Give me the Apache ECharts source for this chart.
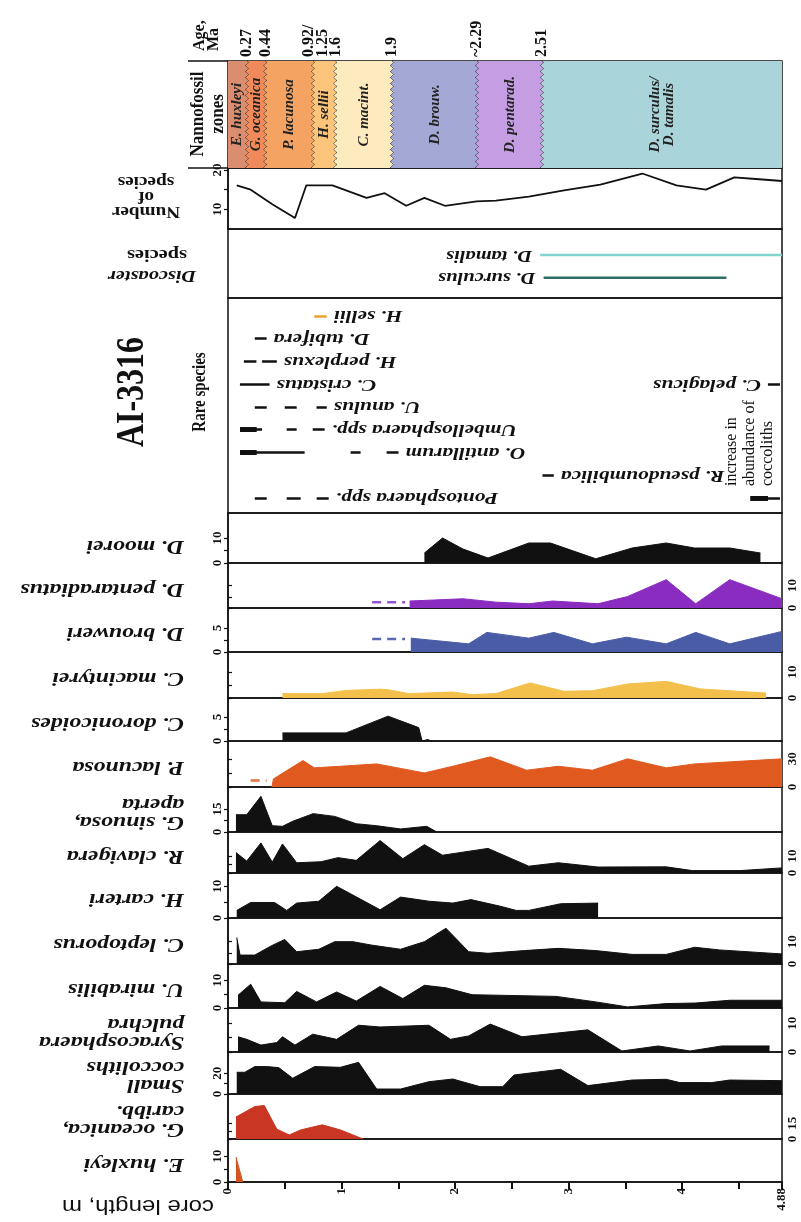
<!DOCTYPE html>
<html>
<head>
<meta charset="utf-8">
<title>AI-3316 nannofossils</title>
<script src="https://cdn.jsdelivr.net/npm/echarts@6/dist/echarts.min.js"></script>
<style>
  html, body { margin: 0; padding: 0; background: #fff; }
  #main { width: 801px; height: 1222px; }
</style>
</head>
<body>
<div id="main"></div>
<script>
// core length axis, m
const coreMax = 4.88
const coreTicks = [0, 0.5, 1, 1.5, 2, 2.5, 3, 3.5, 4, 4.5, 4.88]
const coreLabels = [0, 1, 2, 3, 4, 4.88]

// nannofossil zones (boundaries in m) and ages at the boundaries
const zoneBounds = [0, 0.169, 0.33, 0.75, 0.947, 1.446, 2.195, 2.768, 4.88]
const zoneNames = ['E. huxleyi', 'G. oceanica', 'P. lacunosa', 'H. sellii', 'C. macint.', 'D. brouw.', 'D. pentarad.', 'D. surculus/\nD. tamalis']
const ageLabels = ['0.27', '0.44', '0.92/\n1.25', '1.6', '1.9', '~2.29', '2.51']

// number of species
const speciesCount = [[0.077, 16.1], [0.20, 15.0], [0.39, 11.3], [0.59, 7.8], [0.69, 16.1], [0.92, 16.1], [1.22, 12.9], [1.38, 14.1], [1.57, 10.9], [1.73, 12.9], [1.91, 10.9], [2.19, 12.0], [2.36, 12.2], [2.65, 13.2], [2.96, 14.8], [3.28, 16.3], [3.65, 19.1], [3.95, 16.1], [4.21, 15.0], [4.46, 18.1], [4.65, 17.7], [4.88, 17.2]]

// Discoaster species ranges
const discoNames = ['D. tamalis', 'D. surculus']
const discoRanges = [[2.75, 4.88], [2.78, 4.39]]

// rare species: [row, from, to]
const rareNames = ['H. sellii', 'D. tubifera', 'H. perplexus', 'C. cristatus', 'U. anulus', 'Umbellosphaera spp.', 'O. antillarum', 'R. pseudoumbilica', 'Pontosphaera spp.']
const rareSegments = [
  [0, 0.76, 0.87],
  [1, 0.236, 0.34],
  [2, 0.14, 0.25], [2, 0.30, 0.43],
  [3, 0.105, 0.366],
  [4, 0.236, 0.341], [4, 0.50, 0.605], [4, 0.78, 0.87],
  [5, 0.106, 0.30], [5, 0.517, 0.605], [5, 0.746, 0.851],
  [6, 0.106, 0.675], [6, 1.08, 1.168], [6, 1.397, 1.502],
  [7, 2.77, 2.87],
  [8, 0.236, 0.341], [8, 0.517, 0.64], [8, 0.781, 0.887]
]
const rareThick = [[5, 0.106, 0.253], [6, 0.106, 0.253]]
const pelagicus = [3, 4.756, 4.862]
const coccolithIncrease = [8, 4.60, 4.757, 4.862]

// abundance panels, %
const mooreiData = [[1.73, 4], [1.89, 10], [2.07, 5.6], [2.29, 2], [2.65, 8], [2.84, 8], [3.24, 1.7], [3.56, 6], [3.86, 8], [4.11, 6], [4.42, 6], [4.69, 4]]
const pentaData = [[1.60, 3.1], [2.07, 4.1], [2.36, 2.6], [2.65, 1.9], [2.86, 3.1], [3.26, 1.9], [3.52, 5.1], [3.86, 12.6], [4.12, 1.9], [4.42, 12.6], [4.88, 4.1]]
const pentaDashed = [[1.27, 2.6], [1.56, 2.6]]
const brouData = [[1.61, 2.9], [2.12, 1.7], [2.28, 4.1], [2.65, 2.9], [2.87, 4.1], [3.21, 1.7], [3.51, 3.1], [3.86, 1.7], [4.12, 4.1], [4.42, 1.7], [4.88, 4.3]]
const brouDashed = [[1.27, 2.7], [1.56, 2.7]]
const macinData = [[0.48, 1.7], [0.83, 1.7], [1.04, 2.9], [1.34, 3.4], [1.41, 3.2], [1.59, 1.7], [1.98, 2.3], [2.15, 1.3], [2.36, 1.7], [2.66, 5.8], [2.96, 2.6], [3.21, 2.8], [3.52, 5.4], [3.86, 6.4], [4.16, 3.5], [4.74, 1.9]]
const doronData = [[0.48, 1.7], [1.04, 1.7], [1.41, 5.2], [1.68, 2.8], [1.71, 0], [1.76, 0.3], [1.79, 0]]
const lacunData = [[0.387, 0], [0.40, 8.6], [0.66, 28.2], [0.76, 20.4], [0.99, 22.1], [1.31, 24.6], [1.73, 15], [1.98, 22.1], [2.31, 32.1], [2.63, 17.9], [2.91, 22.1], [3.21, 17.9], [3.52, 30], [3.86, 20.4], [4.11, 24.6], [4.88, 30]]
const lacunDashed = [[0.20, 6.8], [0.34, 6.8]]
const sinuData = [[0.07, 11.3], [0.165, 11.3], [0.29, 23.3], [0.39, 4.1], [0.48, 3.7], [0.57, 7], [0.75, 12], [0.94, 10.2], [1.13, 5.4], [1.31, 4.1], [1.52, 2], [1.75, 3.7], [1.84, 0]]
const clavData = [[0.07, 12], [0.165, 7], [0.29, 17.6], [0.39, 6.4], [0.48, 17], [0.605, 6], [0.82, 6.6], [0.97, 9], [1.13, 7.4], [1.34, 19], [1.54, 8.4], [1.73, 16.6], [1.89, 10.4], [2.29, 14.4], [2.65, 4], [2.91, 6], [3.26, 3.5], [3.86, 3.6], [4.09, 1.4], [4.51, 1.4], [4.88, 3]]
const cartData = [[0.077, 2.4], [0.20, 4.9], [0.41, 4.9], [0.517, 2.4], [0.605, 4.7], [0.80, 5.3], [0.957, 10], [1.34, 2.6], [1.52, 6.6], [1.77, 5.3], [1.98, 4.7], [2.14, 5.8], [2.40, 3.7], [2.54, 2.4], [2.65, 2.4], [2.93, 4.5], [3.26, 4.7]]
const leptData = [[0.077, 11.9], [0.106, 4], [0.236, 4], [0.376, 8], [0.50, 11], [0.605, 5.5], [0.80, 6.6], [0.94, 10], [1.10, 10], [1.26, 8.5], [1.52, 6.6], [1.73, 10], [1.92, 16], [2.12, 5.5], [2.29, 4.8], [2.61, 6], [2.91, 7], [3.24, 6], [3.56, 4.3], [3.86, 4.3], [4.11, 7.5], [4.33, 6.3], [4.88, 4.5]]
const miraData = [[0.088, 4.6], [0.20, 8.6], [0.29, 2.2], [0.50, 1.9], [0.605, 6], [0.78, 2.2], [0.957, 5.8], [1.13, 2.5], [1.34, 7.8], [1.54, 3.4], [1.73, 8.2], [1.92, 7.3], [2.15, 4.8], [2.89, 4.2], [3.24, 2.2], [3.52, 0.4], [3.86, 1.6], [4.12, 1.8], [4.42, 2.8], [4.88, 2.8]]
const syraData = [[0.088, 5.3], [0.165, 4.4], [0.29, 2.4], [0.43, 3.3], [0.48, 5.3], [0.59, 2.4], [0.746, 6.2], [0.957, 4.4], [1.15, 9.3], [1.34, 8.7], [1.77, 9.3], [1.96, 4.4], [2.12, 5.6], [2.31, 9.7], [2.59, 5.3], [3.17, 7.7], [3.47, 0.35], [3.79, 2.1], [4.07, 0.35], [4.35, 2.1], [4.77, 2.1]]
const smallData = [[0.077, 21], [0.148, 21], [0.236, 26.5], [0.34, 26.5], [0.447, 25.5], [0.57, 15.2], [0.763, 26.5], [0.99, 25.8], [1.15, 30.6], [1.31, 4.8], [1.52, 4.8], [1.77, 11.9], [1.98, 14.5], [2.22, 7.1], [2.42, 7.1], [2.52, 18.4], [2.93, 23.9], [3.17, 8.1], [3.56, 13.5], [3.86, 14.2], [3.98, 11], [4.26, 11], [4.42, 13.5], [4.88, 12.9]]
const oceaData = [[0.07, 21], [0.236, 31], [0.32, 32], [0.43, 9.4], [0.54, 3.9], [0.64, 8.7], [0.83, 13.5], [0.99, 8.7], [1.19, 0]]
const huxData = [[0.07, 9.7], [0.13, 0]]

// ---- layout / styles ----
const SERIF = '"Liberation Serif", "DejaVu Serif", serif'
const INK = '#111'
const L = 228
const W = 554
const zoneColors = ['#da8e6f', '#f08a5b', '#f5a363', '#fcc57b', '#feeabf', '#a4a8d5', '#c59de2', '#a9d4da']
// top, height of each strip
const zoneRow = [61, 107]
const countRow = [168, 61]
const discoRow = [229, 69]
const rareRow = [298, 215]
const panelRows = [[513, 50], [563, 45], [608, 44], [652, 46], [698, 43], [741, 46], [787, 45], [832, 41], [873, 45], [918, 46], [964, 44], [1008, 44], [1052, 42], [1094, 45], [1139, 43]]

const panels = [
  { label: 'D. moorei', data: mooreiData, color: INK, max: 20, tick: 10, side: 'left' },
  { label: 'D. pentaradiatus', data: pentaData, dashed: pentaDashed, color: '#8a2cc0', dashColor: '#9a52cc', max: 20, tick: 10, side: 'right' },
  { label: 'D. brouweri', data: brouData, dashed: brouDashed, color: '#4b5ca6', dashColor: '#5b6ab0', max: 9.2, tick: 5, side: 'left' },
  { label: 'C. macintyrei', data: macinData, color: '#f4c04c', max: 17.7, tick: 10, side: 'right' },
  { label: 'C. doronicoides', data: doronData, color: INK, max: 9, tick: 5, side: 'left' },
  { label: 'P. lacunosa', data: lacunData, dashed: lacunDashed, color: '#e05a20', dashColor: '#e8703a', max: 49, tick: 30, side: 'right' },
  { label: 'G. sinuosa,\naperta', data: sinuData, color: INK, max: 29.4, tick: 15, side: 'left' },
  { label: 'R. clavigera', data: clavData, color: INK, max: 24, tick: 10, side: 'right' },
  { label: 'H. carteri', data: cartData, color: INK, max: 14.2, tick: 10, side: 'left' },
  { label: 'C. leptoporus', data: leptData, color: INK, max: 20.6, tick: 10, side: 'right' },
  { label: 'U. mirabilis', data: miraData, color: INK, max: 15.9, tick: 10, side: 'left' },
  { label: 'Syracosphaera\npulchra', data: syraData, color: INK, max: 15.3, tick: 10, side: 'right' },
  { label: 'Small\ncoccoliths', data: smallData, color: INK, max: 40.6, tick: 20, side: 'left' },
  { label: 'G. oceanica,\ncaribb.', data: oceaData, color: '#c93623', max: 43, tick: 15, side: 'right' },
  { label: 'E. huxleyi', data: huxData, color: '#d4541f', max: 16.7, tick: 10, side: 'left' }
]

const grids = []
const xAxes = []
const yAxes = []
const series = []

function addGrid (row, yAxis) {
  const i = grids.length
  grids.push({ left: L, width: W, top: row[0], height: row[1], show: true, borderColor: INK, borderWidth: 1.5, backgroundColor: 'transparent' })
  xAxes.push({ gridIndex: i, type: 'value', min: 0, max: coreMax, show: false })
  yAxes.push(Object.assign({ gridIndex: i, type: 'value', splitLine: { show: false } }, yAxis))
  return i
}

function axisLabelStyle (values) {
  return { customValues: values, rotate: 90, margin: 4, fontSize: 13, fontWeight: 'bold', fontFamily: SERIF, color: INK }
}

// zones
const zoneGrid = addGrid(zoneRow, { min: 0, max: 1, show: false })
series.push({
  type: 'custom',
  xAxisIndex: zoneGrid,
  yAxisIndex: zoneGrid,
  silent: true,
  data: zoneNames.map((n, i) => [zoneBounds[i], zoneBounds[i + 1], i]),
  renderItem (params, api) {
    const i = api.value(2)
    const last = zoneNames.length - 1
    const a = api.coord([api.value(0), 1])
    const b = api.coord([api.value(1), 0])
    const yT = a[1]
    const yB = b[1]
    const wave = (x, y) => x + 1.6 * Math.sin((y - yT) / 6 * 2 * Math.PI)
    const right = []
    const left = []
    for (let y = yT; y <= yB + 0.01; y += 1) {
      right.push([i < last ? wave(b[0], y) : b[0], y])
      left.push([i > 0 ? wave(a[0], y) : a[0], y])
    }
    const children = [{
      type: 'polygon',
      shape: { points: right.concat(left.slice().reverse()) },
      style: { fill: zoneColors[i] }
    }]
    if (i < last) {
      children.push({ type: 'polyline', shape: { points: right }, style: { stroke: '#222', lineWidth: 1, fill: null } })
    }
    children.push({
      type: 'text',
      x: (a[0] + b[0]) / 2,
      y: (yT + yB) / 2,
      rotation: Math.PI / 2,
      style: { text: zoneNames[i], font: 'italic bold 15px ' + SERIF, fill: '#222', align: 'center', verticalAlign: 'middle', lineHeight: 14 }
    })
    return { type: 'group', children }
  }
})

// number of species
const countGrid = addGrid(countRow, {
  min: 5, max: 20.5, position: 'left',
  axisLine: { show: true, lineStyle: { color: INK, width: 1.5 } },
  axisTick: { show: true, customValues: [10, 15, 20], length: 4, lineStyle: { color: INK, width: 1.2 } },
  axisLabel: axisLabelStyle([10, 20])
})
series.push({ type: 'line', xAxisIndex: countGrid, yAxisIndex: countGrid, data: speciesCount, symbol: 'none', lineStyle: { color: INK, width: 1.8 }, silent: true })

// Discoaster species
const discoGrid = addGrid(discoRow, { min: -1.15, max: 1.9, inverse: true, show: false })
const discoColors = ['#7fd4cd', '#2f6d68']
discoRanges.forEach((r, i) => {
  series.push({ type: 'line', xAxisIndex: discoGrid, yAxisIndex: discoGrid, data: [[r[0], i], [r[1], i]], symbol: 'none', lineStyle: { color: discoColors[i], width: 2.5 }, silent: true })
})

// rare species
const rareGrid = addGrid(rareRow, { min: -0.79, max: 8.66, inverse: true, show: false })
series.push({
  type: 'lines', coordinateSystem: 'cartesian2d', xAxisIndex: rareGrid, yAxisIndex: rareGrid, silent: true,
  data: rareSegments.filter(s => s[0] !== 0).map(s => ({ coords: [[s[1], s[0]], [s[2], s[0]]] })),
  lineStyle: { color: INK, width: 2.5, opacity: 1 }
})
series.push({
  type: 'lines', coordinateSystem: 'cartesian2d', xAxisIndex: rareGrid, yAxisIndex: rareGrid, silent: true,
  data: rareSegments.filter(s => s[0] === 0).map(s => ({ coords: [[s[1], s[0]], [s[2], s[0]]] })),
  lineStyle: { color: '#f0a030', width: 2.5, opacity: 1 }
})
series.push({
  type: 'lines', coordinateSystem: 'cartesian2d', xAxisIndex: rareGrid, yAxisIndex: rareGrid, silent: true,
  data: rareThick.map(s => ({ coords: [[s[1], s[0]], [s[2], s[0]]] }))
    .concat([{ coords: [[coccolithIncrease[1], coccolithIncrease[0]], [coccolithIncrease[2], coccolithIncrease[0]]] }]),
  lineStyle: { color: INK, width: 5, opacity: 1 }
})
series.push({
  type: 'lines', coordinateSystem: 'cartesian2d', xAxisIndex: rareGrid, yAxisIndex: rareGrid, silent: true,
  data: [
    { coords: [[pelagicus[1], pelagicus[0]], [pelagicus[2], pelagicus[0]]] },
    { coords: [[coccolithIncrease[2], coccolithIncrease[0]], [coccolithIncrease[3], coccolithIncrease[0]]] }
  ],
  lineStyle: { color: INK, width: 2.5, opacity: 1 }
})

// abundance panels
panels.forEach((p, k) => {
  const isBottom = k === panels.length - 1
  const gi = addGrid(panelRows[k], {
    min: 0, max: p.max, position: p.side,
    axisLine: { show: true, lineStyle: { color: INK, width: 1.5 } },
    axisTick: { show: true, customValues: [0, p.tick / 2, p.tick], length: 4, lineStyle: { color: INK, width: 1.2 } },
    axisLabel: axisLabelStyle([0, p.tick])
  })
  if (isBottom) {
    xAxes[gi] = {
      gridIndex: gi, type: 'value', min: 0, max: coreMax, position: 'bottom',
      axisLine: { show: true, lineStyle: { color: INK, width: 1.5 } },
      axisTick: { show: true, customValues: coreTicks, length: 7, lineStyle: { color: INK, width: 2 } },
      axisLabel: { customValues: coreLabels, rotate: 90, margin: 6, fontSize: 13, fontWeight: 'bold', fontFamily: SERIF, color: INK },
      splitLine: { show: false }
    }
  }
  series.push({
    type: 'line', xAxisIndex: gi, yAxisIndex: gi, data: p.data, symbol: 'none', silent: true,
    lineStyle: { color: p.color, width: 1 },
    areaStyle: { color: p.color, opacity: 1 }
  })
  if (p.dashed) {
    series.push({
      type: 'line', xAxisIndex: gi, yAxisIndex: gi, data: p.dashed, symbol: 'none', silent: true,
      lineStyle: { color: p.dashColor, width: 2.5, type: [9, 6] }
    })
  }
})

const chart = echarts.init(document.getElementById('main'))
chart.setOption({
  animation: false,
  backgroundColor: '#fff',
  grid: grids,
  xAxis: xAxes,
  yAxis: yAxes,
  series
})

// ---- text annotations ----
const graphic = []
function text (x, y, str, font, opts) {
  graphic.push(Object.assign({
    type: 'text', x, y, silent: true,
    style: Object.assign({ text: str, font, fill: INK }, opts.style || {})
  }, opts.el || {}))
}
const up = Math.PI / 2
const flip = Math.PI
const bold = s => 'bold ' + s + 'px ' + SERIF
const boldIt = s => 'italic bold ' + s + 'px ' + SERIF

// age labels above the zones
ageLabels.forEach((a, i) => {
  const p = chart.convertToPixel({ gridIndex: zoneGrid }, [zoneBounds[i + 1], 1])
  text(p[0] + (a.indexOf('\n') > -1 ? 3 : 0), 57, a, bold(16), { el: { rotation: up }, style: { align: 'left', verticalAlign: 'middle', lineHeight: 14 } })
})
text(207, 51, 'Age,\nMa', bold(16), { el: { rotation: up }, style: { align: 'left', verticalAlign: 'middle', lineHeight: 14 } })

// nannofossil zones cell
text(208, 114, 'Nannofossil\nzones', bold(17), { el: { rotation: up, scaleY: 1.1 }, style: { align: 'center', verticalAlign: 'middle', lineHeight: 18 } })
graphic.push({ type: 'line', silent: true, shape: { x1: 188, y1: zoneRow[0], x2: L, y2: zoneRow[0] }, style: { stroke: INK, lineWidth: 1.5 } })
graphic.push({ type: 'line', silent: true, shape: { x1: 188, y1: zoneRow[0] + zoneRow[1], x2: L, y2: zoneRow[0] + zoneRow[1] }, style: { stroke: INK, lineWidth: 1.5 } })

// strip titles (upside down)
text(146, 196, 'Number\nof\nspecies', bold(16), { el: { rotation: flip, scaleX: 1.2 }, style: { align: 'center', verticalAlign: 'middle', lineHeight: 15 } })
text(152, 275, 'Discoaster', boldIt(17), { el: { rotation: flip, scaleX: 1.2 }, style: { align: 'center', verticalAlign: 'middle' } })
text(157, 254, 'species', bold(17), { el: { rotation: flip, scaleX: 1.2 }, style: { align: 'center', verticalAlign: 'middle' } })
text(133, 392, 'AI-3316', bold(32), { el: { rotation: up, scaleY: 1.25 }, style: { align: 'center', verticalAlign: 'middle' } })
text(200, 392, 'Rare species', bold(15), { el: { rotation: up, scaleY: 1.2 }, style: { align: 'center', verticalAlign: 'middle' } })

// Discoaster line labels
discoRanges.forEach((r, i) => {
  const p = chart.convertToPixel({ gridIndex: discoGrid }, [r[0], i])
  text(p[0] - 8, p[1], discoNames[i], boldIt(17), { el: { rotation: flip, scaleX: 1.2 }, style: { align: 'left', verticalAlign: 'middle' } })
})

// rare species labels, right of their last segment
rareNames.forEach((n, row) => {
  const end = Math.max(...rareSegments.filter(s => s[0] === row).map(s => s[2]))
  const p = chart.convertToPixel({ gridIndex: rareGrid }, [end, row])
  text(p[0] + 7, p[1], n, boldIt(17.5), { el: { rotation: flip, scaleX: 1.22 }, style: { align: 'right', verticalAlign: 'middle' } })
})
{
  const p = chart.convertToPixel({ gridIndex: rareGrid }, [pelagicus[1], pelagicus[0]])
  text(p[0] - 7, p[1], 'C. pelagicus', boldIt(17.5), { el: { rotation: flip, scaleX: 1.22 }, style: { align: 'left', verticalAlign: 'middle' } })
  const q = chart.convertToPixel({ gridIndex: rareGrid }, [coccolithIncrease[1], coccolithIncrease[0]])
  text(q[0], q[1] - 12, 'increase in\nabundance of\ncoccoliths', '16px ' + SERIF, { el: { rotation: up }, style: { align: 'left', verticalAlign: 'middle', lineHeight: 18 } })
}

// panel labels (upside down)
panels.forEach((p, k) => {
  const cy = panelRows[k][0] + panelRows[k][1] / 2 + (k === 0 ? 8 : 3)
  text(184, cy, p.label, boldIt(19), { el: { rotation: flip, scaleX: 1.25 }, style: { align: 'left', verticalAlign: 'middle', lineHeight: 18 } })
})

// core length axis title
text(214, 1206, 'core length, m', '20px "Liberation Sans", Arial, sans-serif', { el: { rotation: flip, scaleX: 1.2 }, style: { align: 'left', verticalAlign: 'middle' } })

chart.setOption({ graphic })
window.addEventListener('resize', () => chart.resize())
</script>
</body>
</html>
